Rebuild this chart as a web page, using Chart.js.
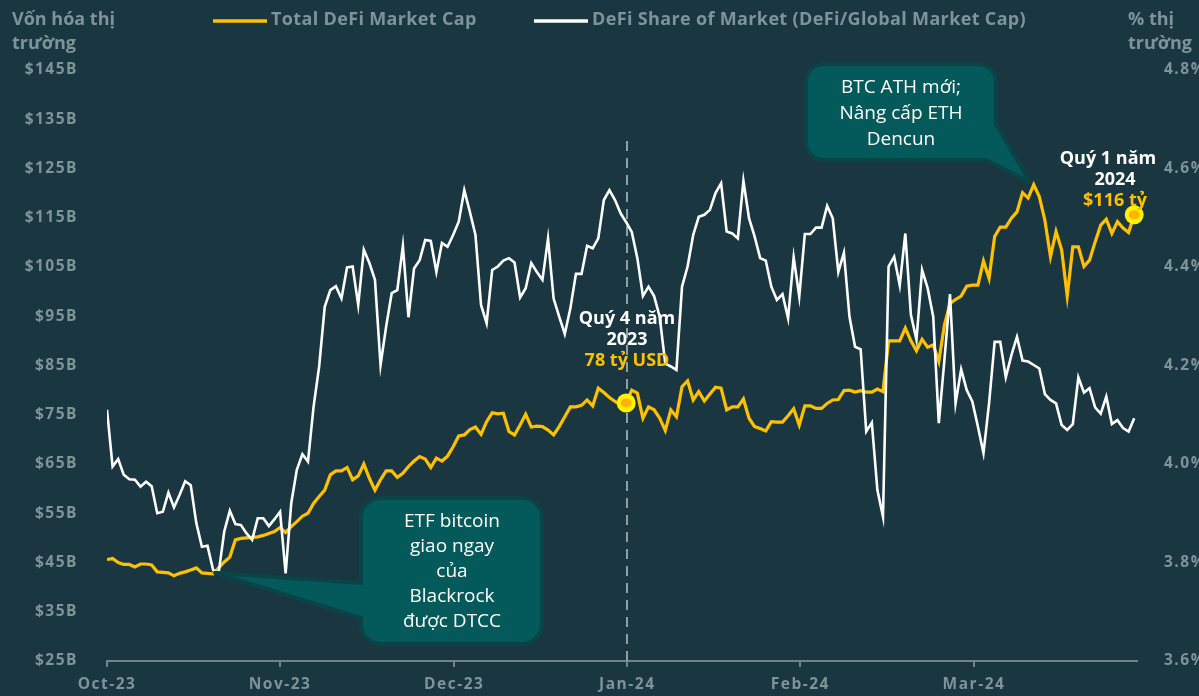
<!DOCTYPE html>
<html>
<head>
<meta charset="utf-8">
<script src="https://cdn.jsdelivr.net/npm/chart.js@4/dist/chart.umd.min.js"></script>
<style>
  html, body { margin: 0; padding: 0; background: #1a3641; }
  #wrap { width: 1199px; height: 696px; }
</style>
</head>
<body>
<div id="wrap"><canvas id="myChart" width="1199" height="696"></canvas></div>
<script>
// month labels and where they sit on the point index axis
var monthLabels = ['Oct-23', 'Nov-23', 'Dec-23', 'Jan-24', 'Feb-24', 'Mar-24'];
var monthTickPos = [0, 31, 62.2, 93.2, 124.2, 155.3];

// Total DeFi market cap, $B (one value per day, Oct-23 .. end Mar-24)
var defiCap = [
  45.6, 45.8, 45.0, 44.6, 44.6, 44.1, 44.7, 44.7, 44.5, 43.1,
  43.0, 42.9, 42.3, 42.8, 43.1, 43.5, 43.9, 42.9, 42.8, 42.7,
  43.9, 45.1, 46.1, 49.6, 49.9, 50.0, 50.1, 50.2, 50.5, 50.9,
  51.3, 52.1, 51.1, 52.3, 53.3, 54.4, 55.0, 57.0, 58.4, 59.7,
  62.8, 63.6, 63.6, 64.3, 61.8, 62.6, 65.0, 62.1, 59.7, 61.8,
  63.6, 63.6, 62.3, 63.1, 64.5, 65.6, 66.5, 66.0, 64.3, 66.2,
  65.6, 66.6, 68.5, 70.7, 70.9, 72.0, 72.5, 71.0, 73.6, 75.4,
  75.2, 75.3, 71.6, 70.9, 72.9, 75.1, 72.5, 72.7, 72.6, 71.9,
  70.9, 72.6, 74.6, 76.6, 76.6, 76.9, 78.0, 76.8, 80.4, 79.5,
  78.5, 77.7, 77.0, 77.4, 80.0, 79.4, 74.3, 76.6, 76.0, 74.3,
  71.8, 76.0, 74.6, 80.7, 81.9, 78.0, 79.7, 77.8, 79.2, 80.6,
  80.4, 76.0, 76.6, 76.6, 78.2, 74.3, 72.6, 72.2, 71.7, 73.6,
  73.5, 73.5, 74.8, 76.2, 72.9, 76.8, 76.8, 76.3, 76.3, 77.3,
  78.0, 78.1, 79.9, 80.0, 79.6, 79.9, 79.6, 79.6, 80.2, 79.7,
  90.0, 90.0, 90.0, 92.6, 90.0, 88.0, 90.3, 88.7, 89.2, 85.8,
  93.2, 97.6, 98.4, 99.1, 101.1, 101.3, 101.3, 106.2, 102.7, 111.2,
  113.1, 113.1, 114.9, 116.2, 120.1, 119.0, 121.7, 119.3, 114.5, 107.1,
  112.2, 108.5, 99.1, 109.1, 109.1, 105.1, 106.4, 110.1, 113.5, 114.7,
  111.8, 114.2, 112.9, 112.0, 115.6
];

// DeFi share of global market cap, %
var defiShare = [
  4.110, 3.995, 4.010, 3.978, 3.969, 3.968, 3.954, 3.964, 3.955, 3.900,
  3.903, 3.942, 3.912, 3.937, 3.965, 3.957, 3.880, 3.832, 3.834, 3.785,
  3.779, 3.863, 3.905, 3.878, 3.876, 3.859, 3.846, 3.890, 3.890, 3.874,
  3.888, 3.903, 3.778, 3.920, 3.988, 4.020, 4.005, 4.116, 4.198, 4.319,
  4.353, 4.361, 4.336, 4.399, 4.401, 4.323, 4.435, 4.408, 4.374, 4.201,
  4.279, 4.347, 4.353, 4.443, 4.298, 4.397, 4.414, 4.455, 4.453, 4.390,
  4.449, 4.441, 4.465, 4.492, 4.556, 4.512, 4.465, 4.323, 4.286, 4.394,
  4.401, 4.413, 4.418, 4.409, 4.338, 4.357, 4.408, 4.390, 4.374, 4.458,
  4.336, 4.299, 4.264, 4.316, 4.386, 4.386, 4.443, 4.438, 4.458, 4.536,
  4.556, 4.536, 4.509, 4.491, 4.471, 4.418, 4.341, 4.360, 4.341, 4.299,
  4.204, 4.198, 4.191, 4.360, 4.401, 4.465, 4.502, 4.506, 4.516, 4.550,
  4.570, 4.472, 4.468, 4.458, 4.575, 4.499, 4.462, 4.418, 4.413, 4.360,
  4.333, 4.345, 4.296, 4.420, 4.340, 4.467, 4.467, 4.480, 4.480, 4.524,
  4.499, 4.390, 4.429, 4.299, 4.238, 4.233, 4.066, 4.084, 3.947, 3.893,
  4.401, 4.421, 4.363, 4.468, 4.303, 4.252, 4.394, 4.357, 4.299, 4.083,
  4.211, 4.345, 4.123, 4.192, 4.150, 4.127, 4.076, 4.022, 4.123, 4.248,
  4.248, 4.176, 4.221, 4.258, 4.210, 4.208, 4.201, 4.194, 4.142, 4.130,
  4.123, 4.079, 4.069, 4.081, 4.176, 4.145, 4.154, 4.115, 4.102, 4.137,
  4.081, 4.089, 4.073, 4.066, 4.093
];

// axis ticks
var capTicks = [25, 35, 45, 55, 65, 75, 85, 95, 105, 115, 125, 135, 145];
var shareTicks = [3.6, 3.8, 4.0, 4.2, 4.4, 4.6, 4.8];

// highlighted points (index into the series)
var q4Index = 93;
var q1Index = defiCap.length - 1;
var etfIndex = 19;
var athIndex = 166;

// colours
var bgColor = '#1a3641';
var gray = '#7e949b';
var axisGray = '#6d858c';
var gold = '#ffc000';
var boxFill = '#04595b';
var boxEdge = '#0b4446';

function toPoints(arr) {
    return arr.map(function (v, i) { return { x: i, y: v }; });
}

var overlay = {
    id: 'overlay',
    beforeDraw: function (chart) {
        var ctx = chart.ctx;
        ctx.save();
        ctx.fillStyle = bgColor;
        ctx.fillRect(0, 0, chart.width, chart.height);
        ctx.restore();
        ctx.letterSpacing = '1.5px';
    },
    beforeDatasetsDraw: function (chart) {
        // dashed marker line at the start of Jan-24
        var ctx = chart.ctx;
        var x = Math.round(chart.scales.x.getPixelForValue(monthTickPos[3]));
        ctx.save();
        ctx.strokeStyle = '#8aa1a8';
        ctx.lineWidth = 2;
        ctx.setLineDash([10, 7]);
        ctx.beginPath();
        ctx.moveTo(x, 141);
        ctx.lineTo(x, chart.chartArea.bottom);
        ctx.stroke();
        ctx.restore();
    },
    afterDatasetsDraw: function (chart) {
        var ctx = chart.ctx;
        var meta = chart.getDatasetMeta(1);
        [q4Index, q1Index].forEach(function (idx) {
            var p = meta.data[idx];
            ctx.save();
            ctx.fillStyle = '#fff200';
            ctx.beginPath();
            ctx.arc(p.x, p.y, 9.5, 0, Math.PI * 2);
            ctx.fill();
            ctx.fillStyle = '#ffb400';
            ctx.beginPath();
            ctx.ellipse(p.x, p.y, 5.5, 4.5, 0, 0, Math.PI * 2);
            ctx.fill();
            ctx.restore();
        });
    },
    afterDraw: function (chart) {
        var ctx = chart.ctx;
        var meta = chart.getDatasetMeta(1);
        ctx.save();
        ctx.letterSpacing = '0px';

        // axis titles
        ctx.fillStyle = gray;
        ctx.font = 'bold 18px "Open Sans"';
        ctx.textBaseline = 'middle';
        ctx.textAlign = 'left';
        ctx.fillText('Vốn hóa thị', 12, 20);
        ctx.fillText('trường', 12, 44);
        ctx.fillText('% thị', 1128, 20);
        ctx.fillText('trường', 1128, 44);

        // legend
        ctx.lineWidth = 3.5;
        ctx.strokeStyle = gold;
        ctx.beginPath(); ctx.moveTo(213, 21); ctx.lineTo(267, 21); ctx.stroke();
        ctx.strokeStyle = '#ffffff';
        ctx.beginPath(); ctx.moveTo(534, 21); ctx.lineTo(588, 21); ctx.stroke();
        ctx.letterSpacing = '0.35px';
        ctx.fillText(chart.data.datasets[1].label, 271, 20);
        ctx.fillText(chart.data.datasets[0].label, 592, 20);
        ctx.letterSpacing = '0px';

        // callout 1: ETF
        var tip = meta.data[etfIndex];
        var x0 = 361, y0 = 498, x1 = 542, y1 = 644, r = 20;
        ctx.beginPath();
        ctx.moveTo(x0 + r, y0);
        ctx.arcTo(x1, y0, x1, y1, r);
        ctx.arcTo(x1, y1, x0, y1, r);
        ctx.arcTo(x0, y1, x0, y0, r);
        ctx.lineTo(x0, 618);
        ctx.lineTo(tip.x + 2, tip.y - 1);
        ctx.lineTo(x0, 583);
        ctx.arcTo(x0, y0, x1, y0, r);
        ctx.closePath();
        ctx.fillStyle = boxFill;
        ctx.fill();
        ctx.lineWidth = 4;
        ctx.lineJoin = 'round';
        ctx.strokeStyle = boxEdge;
        ctx.stroke();

        ctx.fillStyle = '#ffffff';
        ctx.font = '19px "Open Sans"';
        ctx.textAlign = 'center';
        ['ETF bitcoin', 'giao ngay', 'của', 'Blackrock', 'được DTCC'].forEach(function (t, i) {
            ctx.fillText(t, 452, 522 + i * 25);
        });

        // callout 2: BTC ATH
        tip = meta.data[athIndex];
        x0 = 806; y0 = 64; x1 = 996; y1 = 160; r = 18;
        ctx.beginPath();
        ctx.moveTo(x0 + r, y0);
        ctx.arcTo(x1, y0, x1, y1, r);
        ctx.lineTo(x1, 124);
        ctx.lineTo(tip.x - 4, tip.y - 3);
        ctx.lineTo(x1 - 10, y1);
        ctx.arcTo(x0, y1, x0, y0, r);
        ctx.arcTo(x0, y0, x1, y0, r);
        ctx.closePath();
        ctx.fillStyle = boxFill;
        ctx.fill();
        ctx.lineWidth = 4;
        ctx.strokeStyle = boxEdge;
        ctx.stroke();

        ctx.fillStyle = '#ffffff';
        ['BTC ATH mới;', 'Nâng cấp ETH', 'Dencun'].forEach(function (t, i) {
            ctx.fillText(t, 901, 88 + i * 26);
        });

        // quarter-end annotations
        ctx.font = 'bold 18px "Open Sans"';
        ctx.fillStyle = '#ffffff';
        ctx.fillText('Quý 4 năm', 627, 319);
        ctx.fillText('2023', 627, 340);
        ctx.fillStyle = gold;
        ctx.fillText('78 tỷ USD', 627, 361);

        ctx.fillStyle = '#ffffff';
        ctx.fillText('Quý 1 năm', 1108, 159);
        ctx.fillText('2024', 1115, 180);
        ctx.fillStyle = gold;
        ctx.fillText('$116 tỷ', 1115, 201);
        ctx.restore();
    }
};

var tickFont = { family: 'Open Sans', size: 15.5, weight: 'bold' };

var ctx = document.getElementById('myChart').getContext('2d');
var myChart = new Chart(ctx, {
    type: 'line',
    data: {
        datasets: [{
            label: 'DeFi Share of Market (DeFi/Global Market Cap)',
            data: toPoints(defiShare),
            yAxisID: 'yR',
            borderColor: '#ffffff',
            borderWidth: 2.6,
            pointRadius: 0,
            tension: 0,
            order: 1
        }, {
            label: 'Total DeFi Market Cap',
            data: toPoints(defiCap),
            yAxisID: 'yL',
            borderColor: gold,
            borderWidth: 3.2,
            pointRadius: 0,
            tension: 0,
            order: 2
        }]
    },
    options: {
        responsive: false,
        animation: false,
        layout: { padding: { top: 70, left: 0, right: 0, bottom: 0 } },
        plugins: {
            legend: { display: false },
            tooltip: { enabled: false }
        },
        scales: {
            x: {
                type: 'linear',
                position: 'bottom',
                min: 0,
                max: 184.5,
                afterBuildTicks: function (s) {
                    s.ticks = monthTickPos.map(function (v) { return { value: v }; });
                },
                afterFit: function (s) { s.height = 35; },
                grid: { drawOnChartArea: false, drawTicks: true, tickLength: 6, color: axisGray, lineWidth: 2 },
                border: { display: true, color: axisGray, width: 2 },
                ticks: {
                    color: gray,
                    font: tickFont,
                    padding: 8,
                    maxRotation: 0,
                    autoSkip: false,
                    callback: function (v, i) { return monthLabels[i]; }
                }
            },
            yL: {
                position: 'left',
                min: 25,
                max: 145,
                afterBuildTicks: function (s) {
                    s.ticks = capTicks.map(function (v) { return { value: v }; });
                },
                afterFit: function (s) { s.width = 107; },
                grid: { display: false },
                border: { display: false },
                ticks: {
                    color: gray,
                    font: tickFont,
                    padding: 21,
                    callback: function (v) { return '$' + v + 'B'; }
                }
            },
            yR: {
                position: 'right',
                min: 3.6,
                max: 4.8,
                afterBuildTicks: function (s) {
                    s.ticks = shareTicks.map(function (v) { return { value: v }; });
                },
                afterFit: function (s) { s.width = 62; },
                grid: { display: false },
                border: { display: false },
                ticks: {
                    color: gray,
                    font: tickFont,
                    padding: 19,
                    callback: function (v) { return v.toFixed(1) + '%'; }
                }
            }
        }
    },
    plugins: [overlay]
});
</script>
</body>
</html>
